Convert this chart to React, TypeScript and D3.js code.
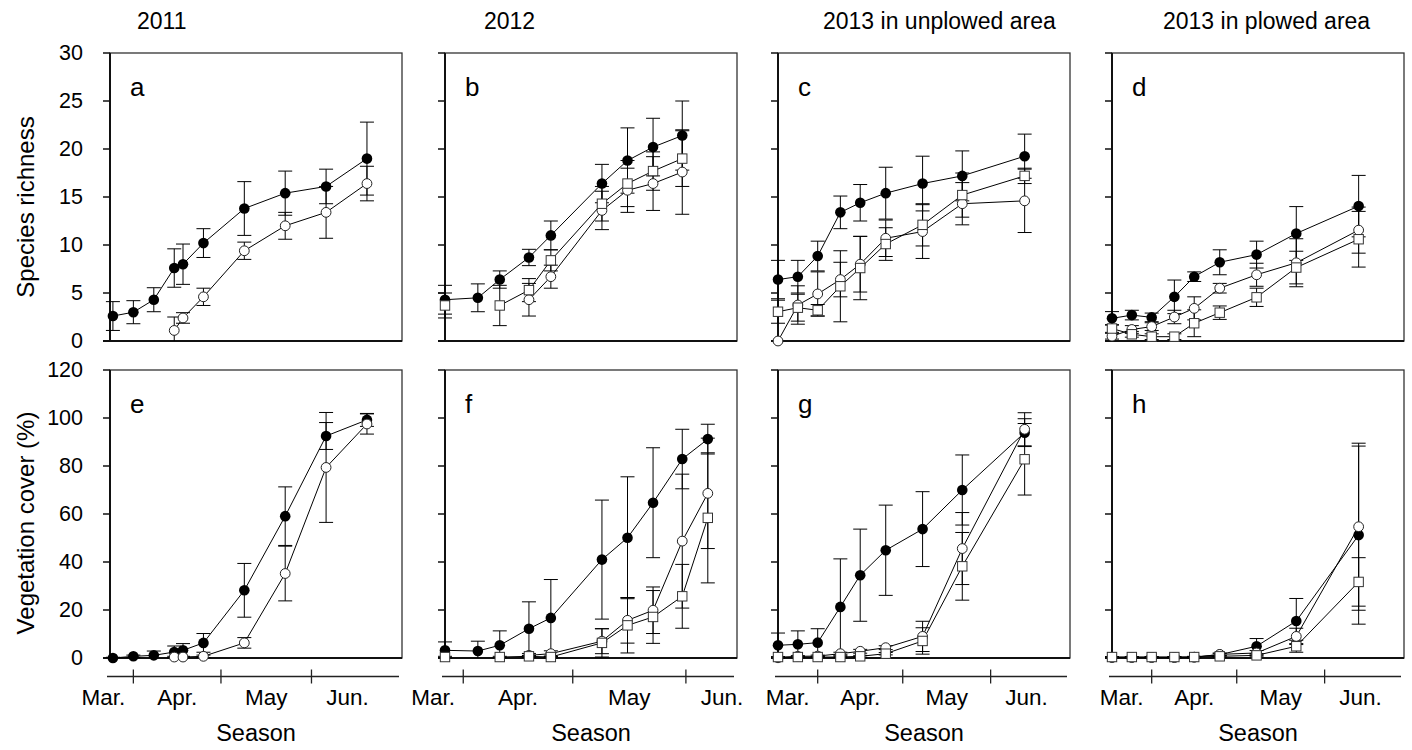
import React from 'react';
import * as d3 from 'd3';

// sampling dates per season
const dates2011 = ['2011-03-25', '2011-04-01', '2011-04-08', '2011-04-15', '2011-04-18', '2011-04-25', '2011-05-09', '2011-05-23', '2011-06-06', '2011-06-20'];
const dates2012 = ['2012-03-27', '2012-04-05', '2012-04-11', '2012-04-19', '2012-04-25', '2012-05-09', '2012-05-16', '2012-05-23', '2012-05-31', '2012-06-07'];
const dates2013 = ['2013-03-18', '2013-03-25', '2013-04-01', '2013-04-09', '2013-04-16', '2013-04-25', '2013-05-08', '2013-05-22', '2013-06-13'];

// x domains (first / last day shown)
const domain2011 = ['2011-03-24', '2011-07-02'];
const domain2012 = ['2012-03-27', '2012-06-15'];
const domain2013 = ['2013-03-18', '2013-06-29'];

// species richness, 2011
const richFilled2011 = [2.6, 3.0, 4.3, 7.6, 8.0, 10.2, 13.8, 15.4, 16.1, 19.0];
const richFilledSe2011 = [1.5, 1.2, 1.25, 2.0, 2.1, 1.5, 2.8, 2.3, 1.8, 3.8];
const richOpen2011 = [null, null, null, 1.1, 2.4, 4.6, 9.4, 12.0, 13.4, 16.4];
const richOpenSe2011 = [null, null, null, 1.4, 0.55, 0.9, 0.9, 1.4, 2.7, 1.8];

// species richness, 2012
const richFilled2012 = [4.3, 4.5, 6.4, 8.7, 11.0, 16.4, 18.8, 20.2, 21.4, null];
const richFilledSe2012 = [1.5, 1.45, 0.9, 0.85, 1.5, 2.0, 3.4, 3.0, 3.6, null];
const richOpen2012 = [null, null, null, 4.3, 6.7, 13.6, 15.7, 16.4, 17.6, null];
const richOpenSe2012 = [null, null, null, 1.7, 1.2, 2.0, 2.3, 2.8, 4.4, null];
const richSquare2012 = [3.7, null, 3.7, 5.3, 8.4, 14.3, 16.4, 17.7, 19.0, null];
const richSquareSe2012 = [1.3, null, 2.1, 1.2, 1.1, 1.8, 2.4, 2.0, 2.9, null];

// species richness, 2013 unplowed
const richFilledUnp = [6.4, 6.7, 8.85, 13.4, 14.4, 15.4, 16.4, 17.2, 19.25];
const richFilledSeUnp = [2.0, 1.7, 1.55, 1.7, 1.9, 2.7, 2.85, 2.6, 2.3];
const richOpenUnp = [0, 3.75, 4.9, 6.4, 8.0, 10.7, 11.4, 14.3, 14.6];
const richOpenSeUnp = [0, 2.0, 2.3, 1.8, 2.9, 1.9, 2.8, 2.2, 3.3];
const richSquareUnp = [3.05, 3.47, 3.2, 5.7, 7.6, 10.1, 12.1, 15.2, 17.2];
const richSquareSeUnp = [1.2, 1.4, 0.6, 3.7, 3.3, 1.7, 2.2, 2.3, 0.8];

// species richness, 2013 plowed
const richFilledPl = [2.36, 2.7, 2.46, 4.6, 6.7, 8.2, 9.0, 11.2, 14.05];
const richFilledSePl = [0.7, 0.5, 0.45, 1.75, 0.5, 1.3, 1.4, 2.8, 3.2];
const richOpenPl = [0.5, 1.2, 1.5, 2.5, 3.4, 5.5, 6.9, 8.15, 11.55];
const richOpenSePl = [0.3, 0.4, 0.4, 0.7, 1.2, 0.5, 1.2, 2.5, 2.4];
const richSquarePl = [1.3, 0.7, 0.45, 0.45, 1.85, 2.95, 4.55, 7.65, 10.6];
const richSquareSePl = [0.4, 0.3, 0.3, 0.3, 1.4, 0.7, 0.95, 1.7, 2.9];

// vegetation cover, 2011
const covFilled2011 = [0.0, 0.7, 1.1, 2.5, 3.2, 6.3, 28.2, 59.1, 92.5, 99.2];
const covFilledSe2011 = [0.3, 0.5, 1.8, 2.5, 2.8, 3.9, 11.2, 12.2, 5.6, 2.7];
const covOpen2011 = [null, null, null, 0.4, 0.4, 0.7, 6.3, 35.2, 79.4, 97.5];
const covOpenSe2011 = [null, null, null, 0.3, 0.3, 0.5, 2.2, 11.4, 22.9, 4.2];

// vegetation cover, 2012
const covFilled2012 = [3.2, 2.9, 5.3, 12.2, 16.7, 41.0, 50.1, 64.7, 82.9, 91.2];
const covFilledSe2012 = [3.5, 4.1, 6.0, 11.2, 16.0, 24.8, 25.4, 22.9, 12.4, 6.2];
const covOpen2012 = [null, null, null, 1.1, 1.8, 7.0, 15.7, 19.9, 48.7, 68.6];
const covOpenSe2012 = [null, null, null, 0.8, 1.2, 5.2, 9.5, 9.7, 27.9, 23.0];
const covSquare2012 = [0.4, null, 0.4, 0.7, 0.4, 6.3, 13.6, 17.1, 25.7, 58.4];
const covSquareSe2012 = [0.3, null, 0.3, 0.4, 0.4, 5.9, 11.5, 11.0, 13.3, 27.1];

// vegetation cover, 2013 unplowed
const covFilledUnp = [5.3, 5.7, 6.4, 21.3, 34.5, 44.9, 53.7, 70.0, 93.9];
const covFilledSeUnp = [5.1, 5.6, 5.8, 20.0, 19.2, 18.8, 15.6, 14.6, 5.8];
const covOpenUnp = [0.1, 0.7, 0.8, 1.8, 2.8, 4.3, 9.0, 45.6, 95.3];
const covOpenSeUnp = [0.1, 0.3, 0.4, 0.6, 0.8, 0.8, 6.3, 15.0, 6.9];
const covSquareUnp = [0.4, 0.4, 0.4, 0.4, 0.7, 1.8, 7.1, 38.2, 82.8];
const covSquareSeUnp = [0.2, 0.2, 0.2, 0.3, 0.4, 0.5, 5.5, 14.1, 14.9];

// vegetation cover, 2013 plowed
const covFilledPl = [0.3, 0.3, 0.3, 0.3, 0.4, 1.4, 4.9, 15.4, 51.2];
const covFilledSePl = [0.2, 0.2, 0.2, 0.2, 0.3, 0.6, 3.2, 9.4, 37.1];
const covOpenPl = [0.2, 0.2, 0.2, 0.2, 0.3, 1.5, 2.1, 9.0, 54.7];
const covOpenSePl = [0.1, 0.1, 0.1, 0.1, 0.2, 0.5, 1.0, 3.4, 34.8];
const covSquarePl = [0.4, 0.4, 0.4, 0.4, 0.4, 0.7, 1.1, 4.9, 31.7];
const covSquareSePl = [0.2, 0.2, 0.2, 0.2, 0.2, 0.4, 0.6, 2.5, 10.1];

const columnTitles = ['2011', '2012', '2013 in unplowed area', '2013 in plowed area'];
const panelLetters = ['a', 'b', 'c', 'd', 'e', 'f', 'g', 'h'];
const richTicks = [0, 5, 10, 15, 20, 25, 30];
const coverTicks = [0, 20, 40, 60, 80, 100, 120];
const monthLabels = ['Mar.', 'Apr.', 'May', 'Jun.'];

const parse = d3.timeParse('%Y-%m-%d');

// layout
const W = 1412;
const H = 750;
const panelLefts = [110, 445, 778, 1112];
const titleX = [137, 484, 823, 1163];
const panelW = 292;
const panelH = 288;
const rowTops = [53, 370];
const font = 'Liberation Sans, Arial, sans-serif';

const col = [
  { dates: dates2011, domain: domain2011 },
  { dates: dates2012, domain: domain2012 },
  { dates: dates2013, domain: domain2013 },
  { dates: dates2013, domain: domain2013 },
];

const mk = (kind, v, e) => ({ kind, v, e });

const rows = [
  {
    yMax: 30,
    ticks: richTicks,
    label: 'Species richness',
    series: [
      [mk('filled', richFilled2011, richFilledSe2011), mk('open', richOpen2011, richOpenSe2011)],
      [mk('filled', richFilled2012, richFilledSe2012), mk('open', richOpen2012, richOpenSe2012), mk('square', richSquare2012, richSquareSe2012)],
      [mk('filled', richFilledUnp, richFilledSeUnp), mk('open', richOpenUnp, richOpenSeUnp), mk('square', richSquareUnp, richSquareSeUnp)],
      [mk('filled', richFilledPl, richFilledSePl), mk('open', richOpenPl, richOpenSePl), mk('square', richSquarePl, richSquareSePl)],
    ],
  },
  {
    yMax: 120,
    ticks: coverTicks,
    label: 'Vegetation cover (%)',
    series: [
      [mk('filled', covFilled2011, covFilledSe2011), mk('open', covOpen2011, covOpenSe2011)],
      [mk('filled', covFilled2012, covFilledSe2012), mk('open', covOpen2012, covOpenSe2012), mk('square', covSquare2012, covSquareSe2012)],
      [mk('filled', covFilledUnp, covFilledSeUnp), mk('open', covOpenUnp, covOpenSeUnp), mk('square', covSquareUnp, covSquareSeUnp)],
      [mk('filled', covFilledPl, covFilledSePl), mk('open', covOpenPl, covOpenSePl), mk('square', covSquarePl, covSquareSePl)],
    ],
  },
];

function Marker({ kind, cx, cy }) {
  if (kind === 'filled') return <circle cx={cx} cy={cy} r={5.3} fill="#000" />;
  if (kind === 'open') return <circle cx={cx} cy={cy} r={4.9} fill="#fff" stroke="#222" strokeWidth={1} />;
  return <rect x={cx - 4.7} y={cy - 4.7} width={9.4} height={9.4} fill="#fff" stroke="#333" strokeWidth={1} />;
}

function Panel({ ri, ci }) {
  const row = rows[ri];
  const c = col[ci];
  const left = panelLefts[ci];
  const top = rowTops[ri];
  const x = d3.scaleTime().domain(c.domain.map(parse)).range([left, left + panelW]);
  const y = d3.scaleLinear().domain([0, row.yMax]).range([top + panelH, top]);
  const dates = c.dates.map(parse);
  const series = row.series[ci];
  const order = ['filled', 'open', 'square'];

  const line = d3
    .line()
    .defined((d) => d[1] != null)
    .x((d) => x(d[0]))
    .y((d) => y(d[1]));

  const bars = [];
  series.forEach((s, si) => {
    s.v.forEach((v, i) => {
      const e = s.e[i];
      if (v == null || e == null || e <= 0) return;
      const lo = Math.max(0, v - e);
      const hi = v + e;
      const px = x(dates[i]);
      bars.push(
        <g key={`eb${si}-${i}`} stroke="#000" strokeWidth={1}>
          <line x1={px} x2={px} y1={y(lo)} y2={y(hi)} />
          <line x1={px - 7} x2={px + 7} y1={y(hi)} y2={y(hi)} />
          {v - e >= 0 && <line x1={px - 7} x2={px + 7} y1={y(lo)} y2={y(lo)} />}
        </g>
      );
    });
  });

  const bottom = top + panelH;
  const right = left + panelW;

  // month axis under the lower row
  let monthAxis = null;
  if (ri === 1) {
    const [d0, d1] = c.domain.map(parse);
    const mTicks = d3.timeMonth.range(d3.timeMonth.ceil(d0), d1).filter((d) => d.getMonth() >= 3 && d.getMonth() <= 5);
    const tx = mTicks.map((d) => x(d));
    const labX = [tx[0] - 30, (tx[0] + tx[1]) / 2, (tx[1] + tx[2]) / 2, tx[2] + 36];
    const ay = 676.5;
    monthAxis = (
      <g>
        <line x1={left - 3} x2={right - 3} y1={ay} y2={ay} stroke="#222" strokeWidth={1.3} />
        {tx.map((t, i) => (
          <line key={i} x1={t} x2={t} y1={ay - 7} y2={ay + 7} stroke="#222" strokeWidth={1.3} />
        ))}
        {monthLabels.map((m, i) => (
          <text key={m} x={labX[i]} y={697} textAnchor="middle" dominantBaseline="central" fontSize={22.5}>
            {m}
          </text>
        ))}
        <text x={(left + right) / 2} y={733} textAnchor="middle" dominantBaseline="central" fontSize={23.5}>
          Season
        </text>
      </g>
    );
  }

  return (
    <g fontFamily={font}>
      <rect x={left} y={top} width={panelW} height={panelH} fill="none" stroke="#333" strokeWidth={1.3} />
      <line x1={left} x2={left} y1={top} y2={bottom} stroke="#111" strokeWidth={2} />
      <line x1={left - 7} x2={right} y1={bottom} y2={bottom} stroke="#111" strokeWidth={2} />
      {row.ticks.map((t) => (
        <g key={t}>
          <line x1={left - 7} x2={left} y1={y(t)} y2={y(t)} stroke="#111" strokeWidth={1.5} />
          {ci === 0 && (
            <text x={83} y={y(t)} textAnchor="end" dominantBaseline="central" fontSize={21.5}>
              {t}
            </text>
          )}
        </g>
      ))}
      {bars}
      {series.map((s, si) => (
        <path
          key={`ln${si}`}
          d={line(dates.map((d, i) => [d, s.v[i]]))}
          fill="none"
          stroke="#000"
          strokeWidth={1}
        />
      ))}
      {order.map((k) =>
        series
          .filter((s) => s.kind === k)
          .map((s) =>
            s.v.map((v, i) => (v == null ? null : <Marker key={`${k}${i}`} kind={k} cx={x(dates[i])} cy={y(v)} />))
          )
      )}
      <text x={left + 20} y={top + 43} fontSize={26}>
        {panelLetters[ri * 4 + ci]}
      </text>
      {monthAxis}
    </g>
  );
}

export default function App() {
  return (
    <svg width={W} height={H} style={{ position: 'absolute', left: 0, top: 0, background: '#fff' }} fontFamily={font}>
      <rect width={W} height={H} fill="#fff" />
      {columnTitles.map((t, i) => (
        <text key={t} x={titleX[i]} y={21} dominantBaseline="central" fontSize={23}>
          {t}
        </text>
      ))}
      <text transform="translate(25,207) rotate(-90)" textAnchor="middle" dominantBaseline="central" fontSize={24}>
        {rows[0].label}
      </text>
      <text transform="translate(25,523) rotate(-90)" textAnchor="middle" dominantBaseline="central" fontSize={24}>
        {rows[1].label}
      </text>
      {[0, 1].map((ri) => [0, 1, 2, 3].map((ci) => <Panel key={`${ri}-${ci}`} ri={ri} ci={ci} />))}
    </svg>
  );
}
